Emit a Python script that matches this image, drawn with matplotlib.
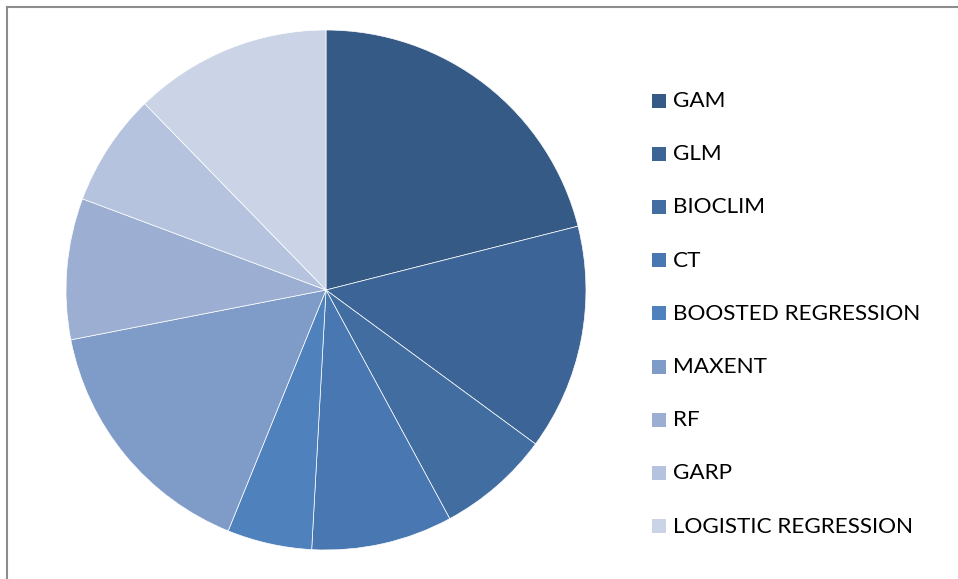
import matplotlib
matplotlib.use("Agg")
import matplotlib.pyplot as plt
from matplotlib.patches import Rectangle
from matplotlib.lines import Line2D

categories = ["GAM", "GLM", "BIOCLIM", "CT", "BOOSTED REGRESSION",
              "MAXENT", "RF", "GARP", "LOGISTIC REGRESSION"]
values = [12, 8, 4, 5, 3, 9, 5, 4, 7]
colors = ["#355A85", "#3C6496", "#416DA1", "#4877B1", "#4F81BD",
          "#7F9BC8", "#9CAFD2", "#B5C3DE", "#CBD4E6"]

W, H = 958, 579
fig = plt.figure(figsize=(W / 100, H / 100), dpi=100)
fig.patch.set_facecolor("white")

# outer chart border (top and left visible)
fig.add_artist(Line2D([7 / W, 1], [1 - 7 / H, 1 - 7 / H], color="#8C8C8C", lw=1.5,
                      transform=fig.transFigure))
fig.add_artist(Line2D([7 / W, 7 / W], [0, 1 - 7 / H], color="#8C8C8C", lw=1.5,
                      transform=fig.transFigure))

cx, cy, r = 326, 290, 260
ax = fig.add_axes([(cx - r) / W, 1 - (cy + r) / H, 2 * r / W, 2 * r / H])
ax.pie(values, colors=colors, startangle=90, counterclock=False, radius=1,
       wedgeprops=dict(linewidth=0.5, edgecolor="white"))
ax.set_xlim(-1, 1)
ax.set_ylim(-1, 1)
ax.set_aspect("equal")
ax.axis("off")

# legend
y0, dy = 100.5, 53.2
for i, (lab, col) in enumerate(zip(categories, colors)):
    y = y0 + i * dy
    fig.add_artist(Rectangle((652 / W, 1 - (y + 7) / H), 14 / W, 14 / H,
                             transform=fig.transFigure, facecolor=col, edgecolor="none"))
    fig.text(673 / W, 1 - (y + 0.5) / H, lab, fontsize=16.2, family="Lato",
             va="center", ha="left", color="#000000")

fig.savefig("out.png", dpi=100)
